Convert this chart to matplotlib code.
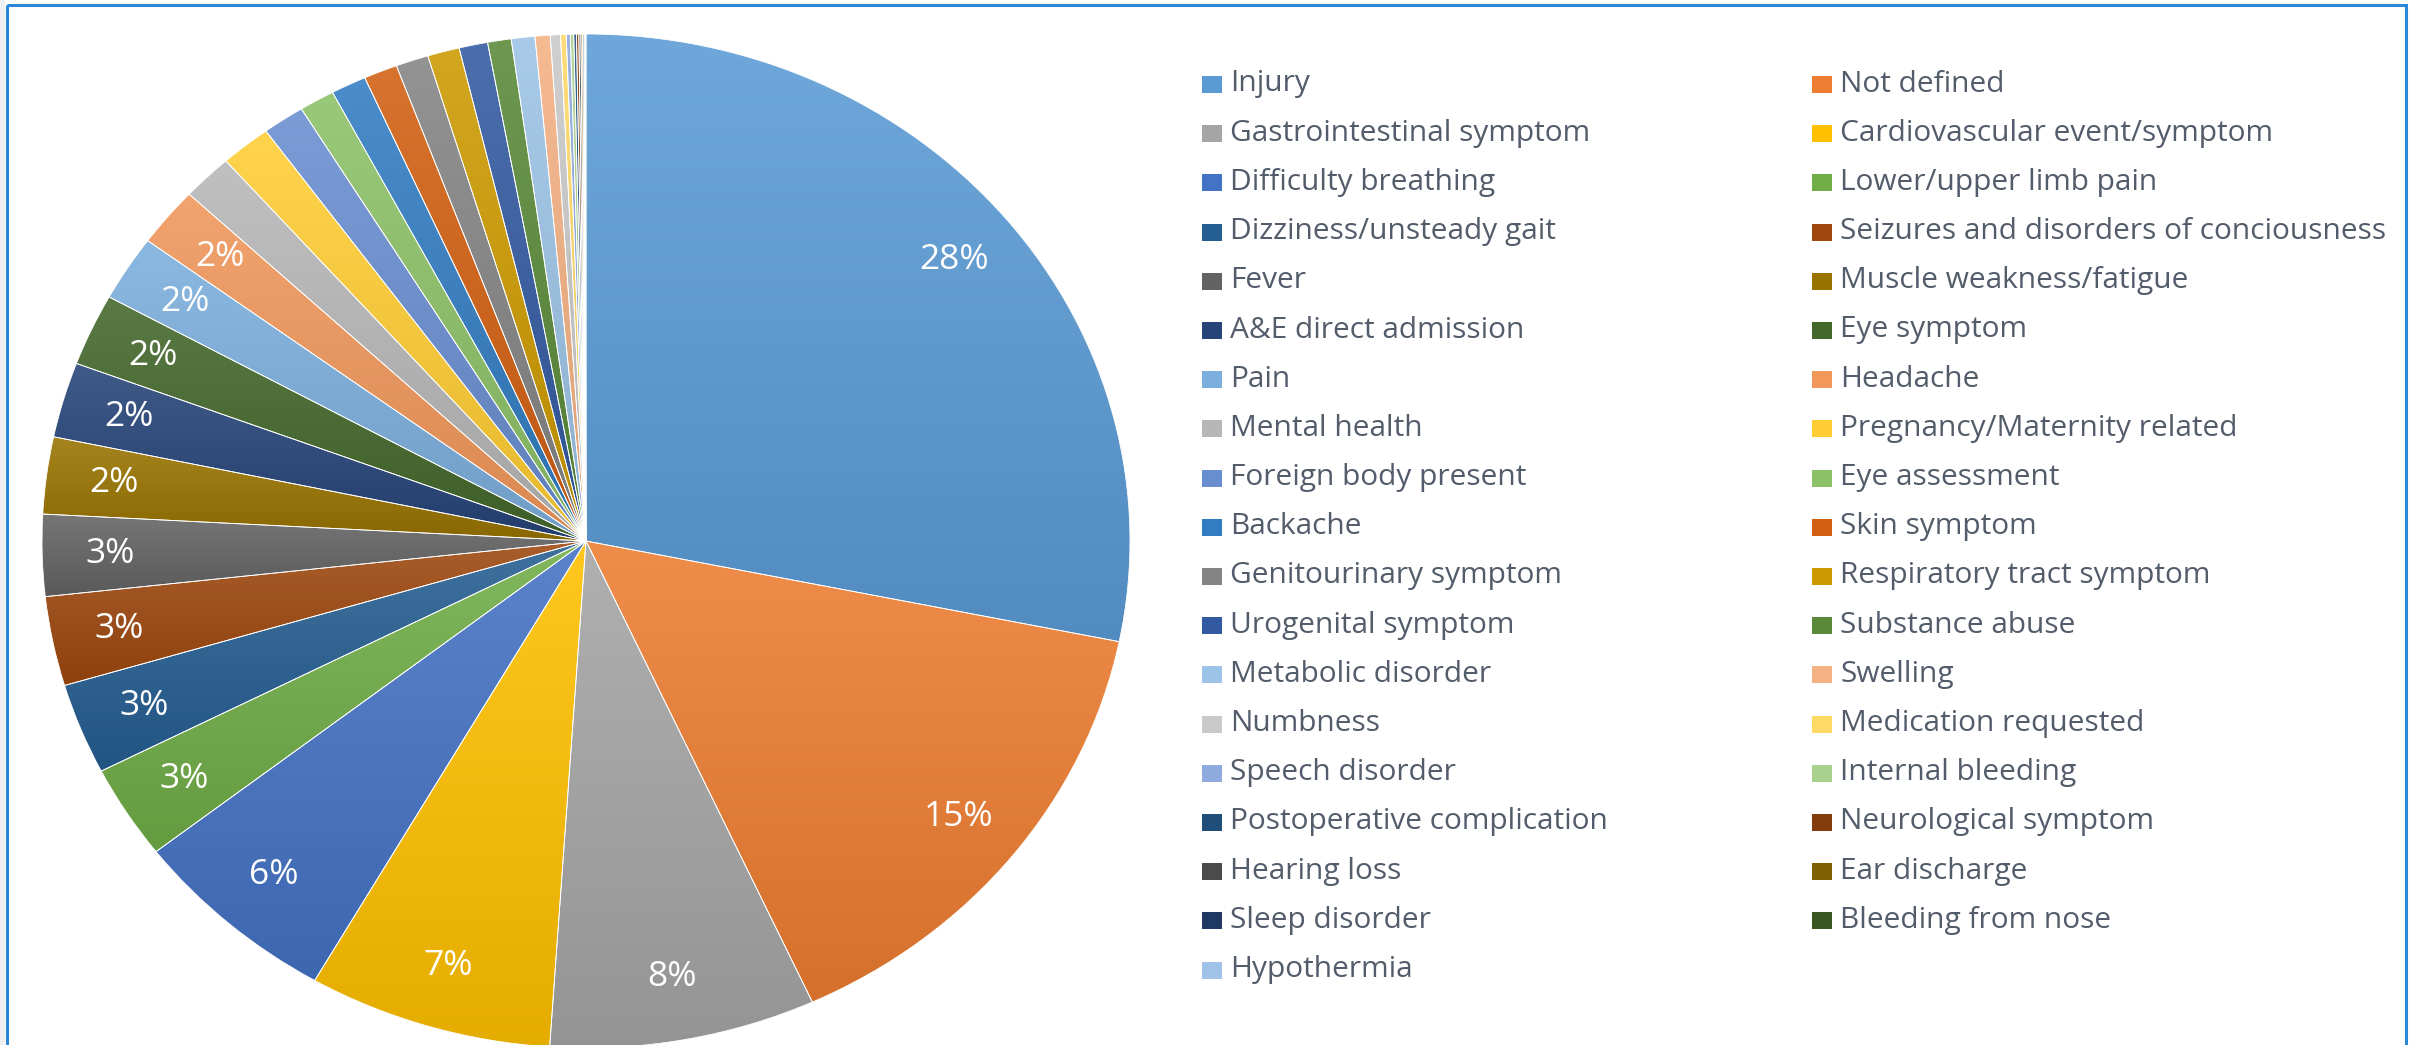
import numpy as np
import matplotlib
matplotlib.use("Agg")
import matplotlib.pyplot as plt
from matplotlib.colors import to_rgb
from matplotlib.patches import Rectangle

plt.rcParams['font.family'] = ['Open Sans', 'DejaVu Sans']

# Reasons for attendance (share of all cases, %)
categories = [
    "Injury", "Not defined", "Gastrointestinal symptom", "Cardiovascular event/symptom",
    "Difficulty breathing", "Lower/upper limb pain", "Dizziness/unsteady gait",
    "Seizures and disorders of conciousness", "Fever", "Muscle weakness/fatigue",
    "A&E direct admission", "Eye symptom", "Pain", "Headache", "Mental health",
    "Pregnancy/Maternity related", "Foreign body present", "Eye assessment", "Backache",
    "Skin symptom", "Genitourinary symptom", "Respiratory tract symptom",
    "Urogenital symptom", "Substance abuse", "Metabolic disorder", "Swelling",
    "Numbness", "Medication requested", "Speech disorder", "Internal bleeding",
    "Postoperative complication", "Neurological symptom", "Hearing loss",
    "Ear discharge", "Sleep disorder", "Bleeding from nose", "Hypothermia",
]
shares = [
    28.2, 15.0, 7.9, 7.25, 6.2, 3.0, 2.9, 2.85, 2.6, 2.45,
    2.4, 2.3, 2.1, 1.9, 1.5, 1.5, 1.25, 1.05, 1.05, 1.0,
    0.97, 0.95, 0.85, 0.7, 0.7, 0.45, 0.3, 0.17, 0.12, 0.1,
    0.08, 0.07, 0.06, 0.05, 0.04, 0.03, 0.03,
]

# office-like palette, cycled with darker / lighter variants
colors = [
    '#5B9BD5', '#ED7D31', '#A5A5A5', '#FFC000', '#4472C4', '#70AD47',
    '#255E91', '#9E480E', '#636363', '#997300', '#264478', '#43682B',
    '#7CAFDD', '#F1975A', '#B7B7B7', '#FFCD33', '#698ED0', '#8CC168',
    '#327DC2', '#D26012', '#848484', '#CC9A00', '#335AA1', '#5A8A39',
    '#9DC3E6', '#F4B183', '#C9C9C9', '#FFD966', '#8FAADC', '#A9D18E',
    '#1F4E79', '#843C0C', '#4B4B4B', '#7F6000', '#203864', '#385723',
    '#A0C4E8',
]

W, H = 2413, 1045
fig = plt.figure(figsize=(W / 100, H / 100), dpi=100)
fig.patch.set_facecolor('white')

# pie axes (slightly stretched horizontally, like the original)
cx, cy, rx, ry = 586, 541, 544, 507
ax = fig.add_axes([(cx - rx) / W, (H - cy - ry) / H, 2 * rx / W, 2 * ry / H])


def pct_label(p):
    return f"{p:.0f}%" if p >= 1.75 else ""


wedges, texts, autotexts = ax.pie(
    shares, colors=colors, startangle=90, counterclock=False,
    autopct=pct_label, pctdistance=0.875, radius=1,
    wedgeprops=dict(linewidth=0.6, edgecolor='white'),
    textprops=dict(color='white', fontsize=25.5),
)
ax.set_xlim(-1, 1)
ax.set_ylim(-1, 1)
ax.set_aspect('auto')
ax.axis('off')

# vertical gradient fill inside every slice
for w, c in zip(wedges, colors):
    base = np.array(to_rgb(c))
    top = base + (1 - base) * 0.12
    bot = base * 0.9
    t = np.linspace(0, 1, 64)[:, None]
    grad = (top[None, :] * (1 - t) + bot[None, :] * t)[:, None, :]
    ext = w.get_path().get_extents()
    im = ax.imshow(grad, extent=(ext.x0, ext.x1, ext.y0, ext.y1), origin='upper',
                   aspect='auto', interpolation='bilinear', zorder=1)
    im.set_clip_path(w)
    w.set_facecolor('none')
    w.set_zorder(2)
for t in autotexts:
    t.set_zorder(3)

# legend, two columns filled row by row
lax = fig.add_axes([0, 0, 1, 1])
lax.set_xlim(0, W)
lax.set_ylim(H, 0)
lax.axis('off')
col_x = [1202, 1812]
row_y0, row_step = 84, 49.2
for i, (lab, c) in enumerate(zip(categories, colors)):
    x = col_x[i % 2]
    y = row_y0 + (i // 2) * row_step
    lax.add_patch(Rectangle((x, y - 8), 20, 17, facecolor=c, edgecolor='none'))
    lax.text(x + 28, y, lab, fontsize=21.5, color='#525C6A', va='center', ha='left')

# chart frame
lax.add_patch(Rectangle((0, 0), 5, H, facecolor='#F0F0F0', edgecolor='none'))
lax.add_patch(Rectangle((7, 5), 2399, H + 20, facecolor='none',
                        edgecolor='#2B88D8', linewidth=2.2))

fig.savefig("out.png", dpi=100)
